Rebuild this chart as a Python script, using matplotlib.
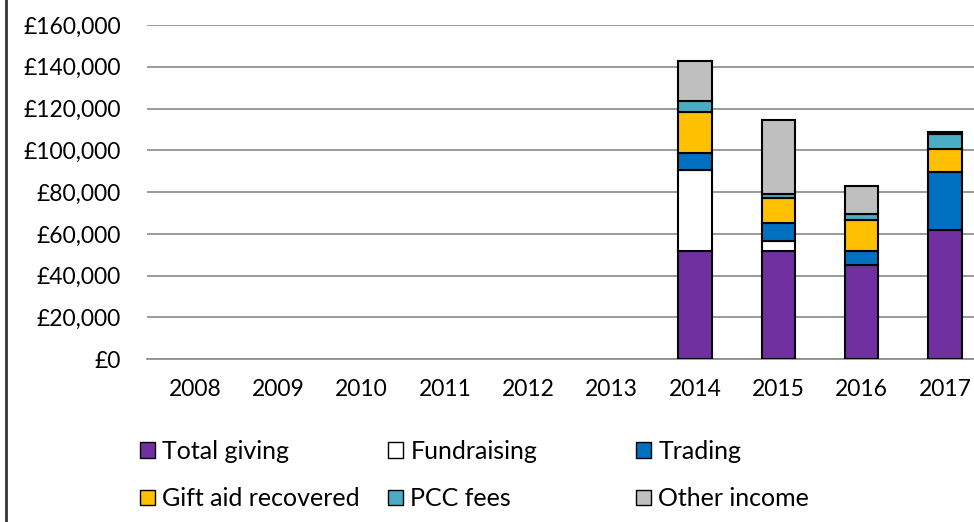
import matplotlib.pyplot as plt
import numpy as np
from matplotlib.patches import Patch
from matplotlib.ticker import FuncFormatter

years = ["2008", "2009", "2010", "2011", "2012", "2013", "2014", "2015", "2016", "2017"]
series_names = ["Total giving", "Fundraising", "Trading", "Gift aid recovered", "PCC fees", "Other income"]
colours = ["#7030A0", "#FFFFFF", "#0070C0", "#FFC000", "#4BACC6", "#BFBFBF"]

total_giving = [0, 0, 0, 0, 0, 0, 52000, 52000, 45000, 62000]
fundraising = [0, 0, 0, 0, 0, 0, 38500, 4500, 0, 0]
trading = [0, 0, 0, 0, 0, 0, 8000, 8500, 7000, 27500]
gift_aid = [0, 0, 0, 0, 0, 0, 20000, 12000, 14500, 11000]
pcc_fees = [0, 0, 0, 0, 0, 0, 5000, 2000, 3000, 7500]
other_income = [0, 0, 0, 0, 0, 0, 19500, 35500, 13500, 800]

plt.rcParams['font.family'] = ['Lato', 'DejaVu Sans']

fig = plt.figure(figsize=(9.74, 5.22), dpi=100)
ax = fig.add_axes([0.151, 0.312, 0.849, 0.64])

x = np.arange(len(years))
bottom = np.zeros(len(years))
for vals, col in zip([total_giving, fundraising, trading, gift_aid, pcc_fees, other_income], colours):
    vals = np.array(vals, dtype=float)
    mask = vals > 0
    ax.bar(x[mask], vals[mask], 0.4, bottom=bottom[mask], color=col, edgecolor="black", linewidth=1.5, zorder=3)
    bottom += vals

ax.set_ylim(0, 160000)
ax.set_xlim(-0.575, 9.35)
ax.set_yticks(np.arange(0, 160001, 20000))
ax.yaxis.set_major_formatter(FuncFormatter(lambda v, p: "£{:,.0f}".format(v)))
ax.set_xticks(x)
ax.set_xticklabels(years)
ax.grid(axis="y", color="#898989", linewidth=1.2, zorder=0)
for s in ["top", "right", "left"]:
    ax.spines[s].set_visible(False)
ax.spines["bottom"].set_color("#898989")
ax.spines["bottom"].set_linewidth(1.2)
ax.tick_params(length=0, labelsize=16.5, colors="black")
ax.tick_params(axis="x", pad=14)
ax.tick_params(axis="y", pad=19)

# legend laid out as three equal-width columns, like the original
handles = [Patch(facecolor=c, edgecolor="black", linewidth=1) for c in colours]
col_x = [140, 388, 636]
for k in range(3):
    ids = [k, k + 3]
    fig.legend([handles[i] for i in ids], [series_names[i] for i in ids], ncol=1,
               loc="upper left", bbox_to_anchor=(col_x[k] / 974, 0.157), frameon=False,
               fontsize=18, handlelength=0.6, handleheight=0.6, handletextpad=0.3,
               labelspacing=0.97, borderpad=0, borderaxespad=0)

fig.add_artist(plt.Line2D([0.006, 0.006], [0, 1], color="#333333", linewidth=2))

fig.savefig("out.png", dpi=100)
